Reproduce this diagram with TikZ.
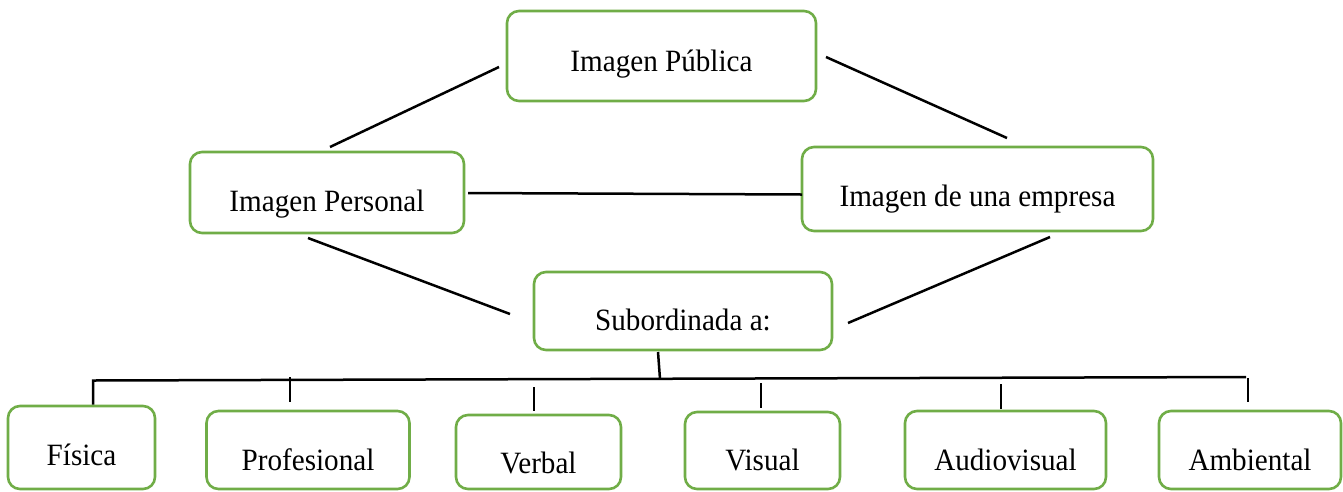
\documentclass[tikz,border=0pt]{standalone}
\usepackage{fontspec}
\setmainfont{Liberation Serif}[FakeStretch=0.94]
\definecolor{boxgreen}{RGB}{112,173,71}
\begin{document}
\begin{tikzpicture}[x=1pt,y=-1pt,
  box/.style={draw=boxgreen, line width=2.6pt, rounded corners=12pt, fill=white,
    inner sep=0pt, text depth=0pt, font=\fontsize{31}{36}\selectfont},
  conn/.style={draw=black, line width=2.5pt}]
\useasboundingbox (0,0) rectangle (1343,491);
\clip (0,0) rectangle (1343,491);
% upper boxes
\node[box, minimum width=309pt, minimum height=90pt, text height=30pt] (pub) at (661.5,56) {Imagen Pública};
\node[box, minimum width=274pt, minimum height=81pt, text height=37pt] (per) at (327,192.5) {Imagen Personal};
\node[box, minimum width=351pt, minimum height=84pt, text height=35pt] (emp) at (977.5,189) {Imagen de una empresa};
\node[box, minimum width=298pt, minimum height=78pt, text height=38pt] (sub) at (683,311) {Subordinada a:};
% lower boxes
\node[box, minimum width=147pt, minimum height=83pt, text height=35pt] (fis) at (81.5,447.5) {Física};
\node[box, minimum width=203pt, minimum height=78pt, text height=41pt] (pro) at (308,450) {Profesional};
\node[box, minimum width=165pt, minimum height=74pt, text height=42pt] (ver) at (538.5,452) {Verbal};
\node[box, minimum width=155pt, minimum height=77pt, text height=39pt] (vis) at (762.5,450.5) {Visual};
\node[box, minimum width=201pt, minimum height=78pt, text height=40pt] (aud) at (1005.5,450) {Audiovisual};
\node[box, minimum width=182pt, minimum height=78pt, text height=40pt] (amb) at (1250,450) {Ambiental};
% connector end points
\coordinate (pubL) at (499,67);
\coordinate (perT) at (330,147);
\coordinate (pubR) at (826,57);
\coordinate (empT) at (1007,138);
\coordinate (perR) at (468,193);
\coordinate (empL) at (802,194.5);
\coordinate (perB) at (308,238);
\coordinate (subL) at (510,314);
\coordinate (empB) at (1050,237);
\coordinate (subR) at (848,323);
\coordinate (subB) at (658,352);
\coordinate (busM) at (660,379);
\coordinate (busL) at (93,380.5);
\coordinate (busR) at (1246,377);
\coordinate (proT) at (290,377);
\coordinate (verT) at (534,387);
\coordinate (visT) at (761,383);
\coordinate (audT) at (1001,384);
\coordinate (ambT) at (1248,378);
% connectors
\draw[conn] (pubL) -- (perT);
\draw[conn] (pubR) -- (empT);
\draw[conn] (perR) -- (empL);
\draw[conn] (perB) -- (subL);
\draw[conn] (empB) -- (subR);
\draw[conn] (subB) -- (busM);
\draw[conn] (fis.north -| busL) -- (busL) -- (busR);
\draw[conn] (proT) -- ++(0,25);
\draw[conn] (verT) -- ++(0,24);
\draw[conn] (visT) -- ++(0,25);
\draw[conn] (audT) -- ++(0,25);
\draw[conn] (ambT) -- ++(0,24);
\end{tikzpicture}
\end{document}
